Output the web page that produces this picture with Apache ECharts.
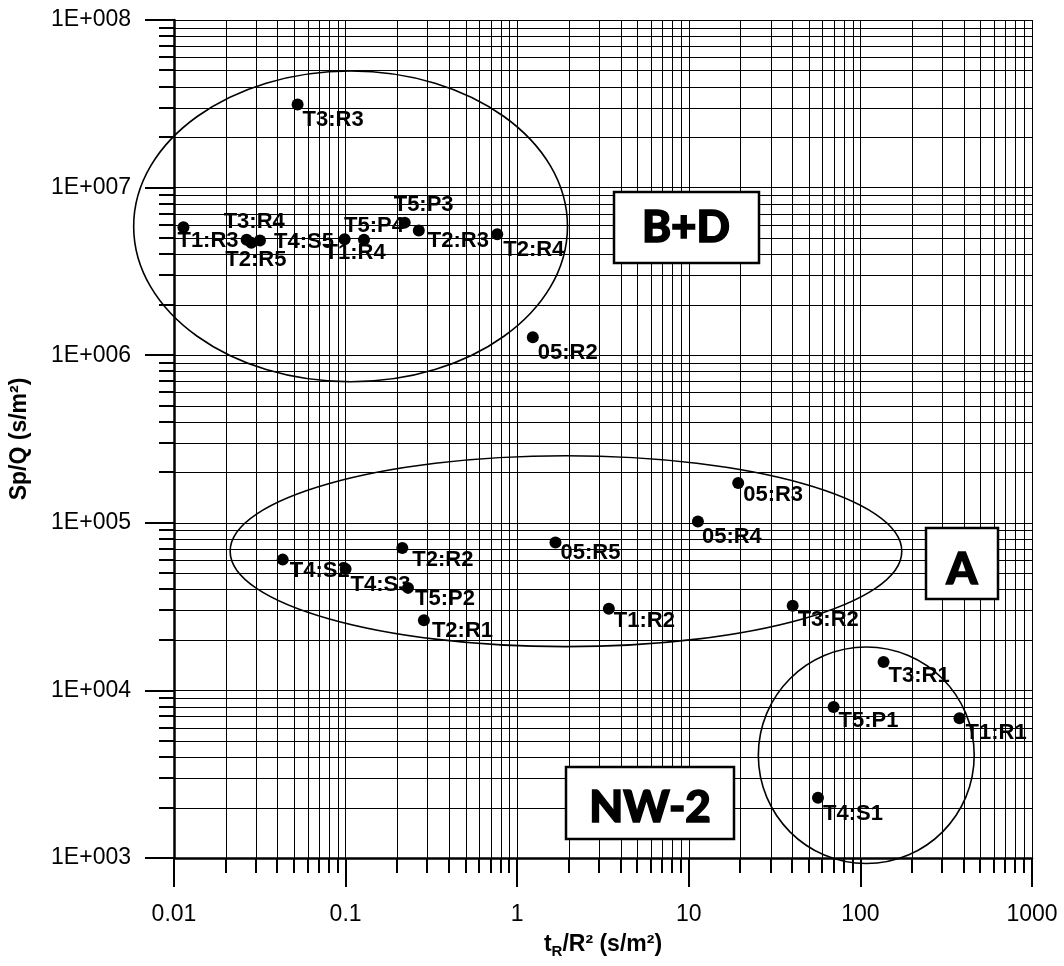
<!DOCTYPE html>
<html><head><meta charset="utf-8">
<script src="https://cdn.jsdelivr.net/npm/echarts@6/dist/echarts.min.js"></script>
<style>html,body{margin:0;padding:0;background:#fff}#c{width:1064px;height:966px}</style>
</head><body><div id="c"></div>
<script>
// ---- data ----
const pointNames = ['T3:R3','T1:R3','T3:R4','T2:R5','T4:S5','T1:R4','T5:P4','T5:P3','T2:R3','T2:R4','05:R2',
  'T4:S2','T4:S3','T2:R2','T5:P2','T2:R1','05:R5','T1:R2','05:R3','05:R4','T3:R2',
  'T3:R1','T5:P1','T1:R1','T4:S1'];
const tR2 = [0.0525, 0.01135, 0.0265, 0.0282, 0.0317, 0.0987, 0.128, 0.221, 0.267, 0.765, 1.233,
  0.0430, 0.100, 0.214, 0.231, 0.286, 1.671, 3.42, 19.4, 11.3, 40.3,
  136.5, 69.8, 378, 56.6];
const spQ = [3.13e7, 5.80e6, 4.88e6, 4.68e6, 4.83e6, 4.92e6, 4.88e6, 6.18e6, 5.54e6, 5.27e6, 1.28e6,
  6.03e4, 5.30e4, 7.07e4, 4.09e4, 2.62e4, 7.64e4, 3.07e4, 1.727e5, 1.019e5, 3.20e4,
  1.479e4, 7.97e3, 6.82e3, 2.29e3];
// label placement (pixels from point centre: left edge of text, middle of text)
const labelOffsets = [[5,15],[-6,14],[-23,-18],[-26,17],[14,1],[-20,14],[-20,-14],[-11,-18],[9,10],[6,16],[5,16],
  [7,11],[5,16],[10,12],[7,11],[8,11],[5,11],[5,12],[5,12],[4,16],[5,14],
  [5,14],[5,14],[6,15],[5,16]];
const xTickLabels = ['0.01','0.1','1','10','100','1000'];
const yTickLabels = ['1E+003','1E+004','1E+005','1E+006','1E+007','1E+008'];
// grouping ellipses: centre (data units) and half-extent in decades
const regionNames = ['B+D','A','NW-2'];
const regionCenterX = [0.1069, 1.924, 108.2];
const regionCenterY = [5.87e6, 6.77e4, 4102];
const regionHalfDecX = [1.264, 1.957, 0.629];
const regionHalfDecY = [0.927, 0.5695, 0.646];

const xMinor = []; for (let e = -2; e < 3; e++) for (let m = 2; m < 10; m++) xMinor.push(+(m * Math.pow(10, e)).toPrecision(3));
const yMinor = []; for (let e = 3; e < 8; e++) for (let m = 2; m < 10; m++) yMinor.push(m * Math.pow(10, e));

const FONT = 'Liberation Sans';
const chart = echarts.init(document.getElementById('c'), null, {renderer: 'canvas'});

const option = {
  animation: false,
  backgroundColor: '#fff',
  grid: {left: 173, right: 32, top: 20, bottom: 108, containLabel: false},
  xAxis: {
    type: 'log', logBase: 10, min: 0.01, max: 1000,
    axisLine: {show: true, onZero: false, lineStyle: {color: '#000', width: 2.5}},
    axisTick: {show: true, inside: false, length: 29, lineStyle: {color: '#000', width: 2}},
    axisLabel: {margin: 45, fontSize: 23, color: '#000', fontFamily: FONT,
      formatter: v => xTickLabels[Math.round(Math.log10(v)) + 2]},
    splitLine: {show: true, lineStyle: {color: '#000', width: 1}},
    name: '{a|t}{s|R}{a|/R² (s/m²)}', nameLocation: 'middle', nameGap: 73,
    nameTextStyle: {fontFamily: FONT, fontWeight: 'bold', fontSize: 23, color: '#000',
      rich: {a: {fontFamily: FONT, fontWeight: 'bold', fontSize: 23, color: '#000'},
             s: {fontFamily: FONT, fontWeight: 'bold', fontSize: 15, color: '#000', padding: [13, 0, 0, 0]}}}
  },
  yAxis: {
    type: 'log', logBase: 10, min: 1000, max: 1e8,
    axisLine: {show: true, onZero: false, lineStyle: {color: '#000', width: 2.5}},
    axisTick: {show: true, inside: false, length: 29, lineStyle: {color: '#000', width: 2}},
    axisLabel: {margin: 43, fontSize: 23, color: '#000', fontFamily: FONT,
      formatter: v => yTickLabels[Math.round(Math.log10(v)) - 3]},
    splitLine: {show: true, lineStyle: {color: '#000', width: 1}},
    name: 'Sp/Q (s/m²)', nameLocation: 'middle', nameGap: 143,
    nameTextStyle: {fontFamily: FONT, fontWeight: 'bold', fontSize: 23, color: '#000'}
  },
  series: [
    {
      type: 'custom', silent: true, z: 1, clip: false,
      data: xMinor.map(v => [v, 1000]),
      renderItem(params, api) {
        const b = api.coord([api.value(0), 1000]);
        const t = api.coord([api.value(0), 1e8]);
        const xx = Math.round(b[0]) + 0.5;
        return {type: 'group', children: [
          {type: 'line', shape: {x1: xx, y1: t[1], x2: xx, y2: b[1]}, style: {stroke: '#000', lineWidth: 1}},
          {type: 'line', shape: {x1: Math.round(b[0]), y1: b[1], x2: Math.round(b[0]), y2: b[1] + 15}, style: {stroke: '#000', lineWidth: 2}}
        ]};
      }
    },
    {
      type: 'custom', silent: true, z: 1, clip: false,
      data: yMinor.map(v => [0.01, v]),
      renderItem(params, api) {
        const l = api.coord([0.01, api.value(1)]);
        const r = api.coord([1000, api.value(1)]);
        const yy = Math.round(l[1]) + 0.5;
        return {type: 'group', children: [
          {type: 'line', shape: {x1: l[0], y1: yy, x2: r[0], y2: yy}, style: {stroke: '#000', lineWidth: 1}},
          {type: 'line', shape: {x1: l[0] - 15, y1: Math.round(l[1]), x2: l[0], y2: Math.round(l[1])}, style: {stroke: '#000', lineWidth: 2}}
        ]};
      }
    },
    {
      type: 'custom', silent: true, z: 3, clip: false,
      data: regionNames.map((n, i) => [regionCenterX[i], regionCenterY[i], regionHalfDecX[i], regionHalfDecY[i]]),
      renderItem(params, api) {
        const cx = api.value(0), cy = api.value(1);
        const c = api.coord([cx, cy]);
        const rx = api.coord([cx * Math.pow(10, api.value(2)), cy])[0] - c[0];
        const ry = c[1] - api.coord([cx, cy * Math.pow(10, api.value(3))])[1];
        return {type: 'ellipse', shape: {cx: c[0], cy: c[1], rx: rx, ry: ry},
          style: {fill: null, stroke: '#000', lineWidth: 1.6}};
      }
    },
    {
      type: 'scatter', z: 5, symbol: 'circle', symbolSize: 12,
      itemStyle: {color: '#000', opacity: 1},
      emphasis: {disabled: true},
      label: {show: true, position: 'inside', align: 'left', verticalAlign: 'middle', opacity: 1,
        formatter: '{b}', color: '#000', fontFamily: FONT, fontWeight: 'bold', fontSize: 22},
      data: pointNames.map((n, i) => ({name: n, value: [tR2[i], spQ[i]], label: {offset: labelOffsets[i]}}))
    }
  ],
  graphic: [
    {type: 'rect', z: 10, shape: {x: 614, y: 192, width: 145, height: 71}, style: {fill: '#fff', stroke: '#000', lineWidth: 2.5}},
    {type: 'text', z: 11, x: 686, y: 228, style: {text: 'B+D', font: '900 44px Lato', fill: '#000', align: 'center', verticalAlign: 'middle', stroke: '#000', lineWidth: 1.5}},
    {type: 'rect', z: 10, shape: {x: 926, y: 528, width: 72, height: 71}, style: {fill: '#fff', stroke: '#000', lineWidth: 2.5}},
    {type: 'text', z: 11, x: 962, y: 570, style: {text: 'A', font: '900 44px Lato', fill: '#000', align: 'center', verticalAlign: 'middle', stroke: '#000', lineWidth: 1.5}},
    {type: 'rect', z: 10, shape: {x: 566, y: 767, width: 168, height: 72}, style: {fill: '#fff', stroke: '#000', lineWidth: 2.5}},
    {type: 'text', z: 11, x: 650, y: 808, style: {text: 'NW-2', font: '900 44px Lato', fill: '#000', align: 'center', verticalAlign: 'middle', stroke: '#000', lineWidth: 1.5}}
  ]
};
chart.setOption(option);
</script>
</body></html>
